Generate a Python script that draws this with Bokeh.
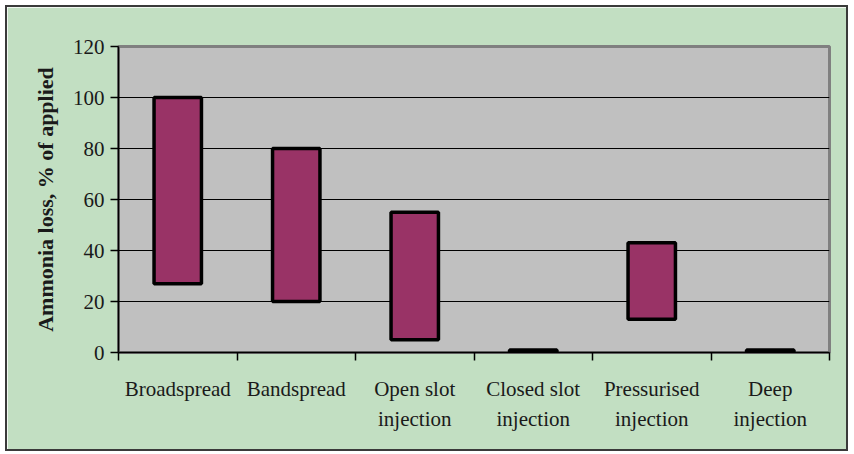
from bokeh.plotting import figure
from bokeh.models import FixedTicker, Range1d
from bokeh.embed import file_html
from bokeh.resources import INLINE

categories = ["Broadspread", "Bandspread", "Open slot\ninjection", "Closed slot\ninjection",
              "Pressurised\ninjection", "Deep\ninjection"]
loss_low = [27, 20, 5, 0, 13, 0]
loss_high = [100, 80, 55, 1, 43, 1]
y_ticks = [0, 20, 40, 60, 80, 100, 120]

n = len(categories)
centers = [i + 0.5 for i in range(n)]

p = figure(width=843, height=446, output_backend="svg", toolbar_location=None,
           x_range=Range1d(0, n), y_range=Range1d(0, 120),
           background_fill_color="#c0c0c0", border_fill_color="#c2dfc2",
           min_border_left=111, min_border_right=21, min_border_top=39, min_border_bottom=101)
p.margin = (5, 4, 2, 5)
p.styles = {"border": "2px solid #3a3a3a", "box-sizing": "border-box"}

p.outline_line_color = "#808080"
p.outline_line_width = 3

p.vbar(x=centers, width=0.4, bottom=loss_low, top=loss_high,
       fill_color="#993366", line_color="black", line_width=3.5)

# y axis
p.yaxis.ticker = FixedTicker(ticks=y_ticks)
p.yaxis.major_tick_out = 8
p.yaxis.major_tick_in = 0
p.yaxis.minor_tick_line_color = None
p.yaxis.axis_line_color = "black"
p.yaxis.axis_line_width = 1.5
p.yaxis.major_tick_line_width = 1.5
p.yaxis.major_label_text_font = "Liberation Serif"
p.yaxis.major_label_text_font_size = "21px"
p.yaxis.major_label_text_color = "#1a1a1a"
p.yaxis.major_label_standoff = 6
p.yaxis.axis_label = "Ammonia loss, % of applied"
p.yaxis.axis_label_text_font = "Liberation Serif"
p.yaxis.axis_label_text_font_size = "22px"
p.yaxis.axis_label_text_font_style = "bold"
p.yaxis.axis_label_text_color = "#1a1a1a"
p.yaxis.axis_label_standoff = 12

# x axis: labels at centers, ticks at boundaries
p.xaxis.ticker = FixedTicker(ticks=centers, minor_ticks=list(range(n + 1)))
p.xaxis.major_label_overrides = {c: lab for c, lab in zip(centers, categories)}
p.xaxis.major_tick_line_color = None
p.xaxis.minor_tick_out = 8
p.xaxis.minor_tick_in = 0
p.xaxis.minor_tick_line_color = "black"
p.xaxis.minor_tick_line_width = 1.5
p.xaxis.axis_line_color = "black"
p.xaxis.axis_line_width = 1.5
p.xaxis.major_label_text_font = "Liberation Serif"
p.xaxis.major_label_text_font_size = "21px"
p.xaxis.major_label_text_color = "#1a1a1a"
p.xaxis.major_label_text_line_height = 1.25
p.xaxis.major_label_standoff = 16

p.xgrid.grid_line_color = None
p.ygrid.ticker = FixedTicker(ticks=y_ticks)
p.ygrid.grid_line_color = "black"
p.ygrid.grid_line_width = 1

open("out.html", "w").write(file_html(p, INLINE))
